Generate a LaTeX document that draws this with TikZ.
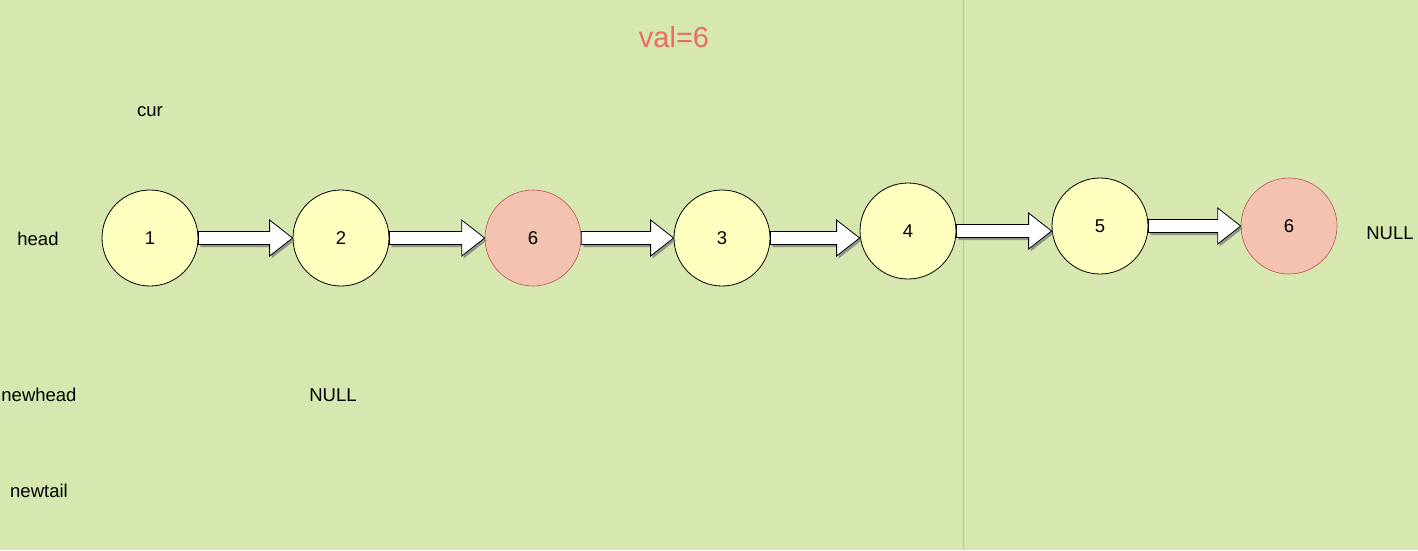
\documentclass[tikz,border=0pt]{standalone}
\usepackage{fontspec}
\setmainfont{Liberation Sans}
\usetikzlibrary{calc,shadows}
\definecolor{bg}{RGB}{214,232,176}
\definecolor{nodey}{RGB}{255,255,192}
\definecolor{noder}{RGB}{244,194,176}
\definecolor{noderb}{RGB}{184,84,80}
\definecolor{valred}{RGB}{234,107,102}
\definecolor{sepline}{RGB}{185,190,178}
\tikzset{
  ynode/.style={circle, draw=black, line width=0.8pt, fill=nodey, minimum size=96pt, inner sep=0pt, font=\fontsize{18.5}{20}\selectfont},
  rnode/.style={circle, draw=noderb, line width=0.6pt, fill=noder, minimum size=96pt, inner sep=0pt, font=\fontsize{18.5}{20}\selectfont},
  lbl/.style={inner sep=0pt, font=\fontsize{18.5}{20}\selectfont},
  barrow/.style={draw=black, line width=0.8pt, fill=white, drop shadow={shadow xshift=2pt, shadow yshift=-2.5pt, fill=black!55, opacity=0.7}}
}
\newcommand{\blockarrow}[2]{%
  \path let \p1=(#1.east), \p2=(#2.west) in
    [barrow] (\x1,\y1+6.5pt) -- (\x2-23pt,\y1+6.5pt) -- (\x2-23pt,\y1+18pt) -- (\x2,\y1)
      -- (\x2-23pt,\y1-18pt) -- (\x2-23pt,\y1-6.5pt) -- (\x1,\y1-6.5pt) -- cycle;}
\begin{document}
\begin{tikzpicture}[x=1pt,y=-1pt]
\fill[bg] (0,0) rectangle (1418,550);
\useasboundingbox (0,0) rectangle (1418,550);
\draw[sepline, line width=0.6pt] (963.5,0) -- (963.5,550);

\node[text=valred, inner sep=0pt, font=\fontsize{29}{32}\selectfont] (val) at (674,37) {val=6};

\node[ynode] (n1) at (150,238) {1};
\node[ynode] (n2) at (341,238) {2};
\node[rnode] (n3) at (533,238) {6};
\node[ynode] (n4) at (722,238) {3};
\node[ynode] (n5) at (908,231) {4};
\node[ynode] (n6) at (1100,226) {5};
\node[rnode] (n7) at (1289,226) {6};

\blockarrow{n1}{n2}
\blockarrow{n2}{n3}
\blockarrow{n3}{n4}
\blockarrow{n4}{n5}
\blockarrow{n5}{n6}
\blockarrow{n6}{n7}

\node[lbl] (cur) at (150,112) {cur};
\node[lbl] (head) at (38,239) {head};
\node[lbl] (null1) at (1390,233) {NULL};
\node[lbl] (newhead) at (39,395) {newhead};
\node[lbl] (null2) at (333,395) {NULL};
\node[lbl] (newtail) at (39,491) {newtail};
\end{tikzpicture}
\end{document}
